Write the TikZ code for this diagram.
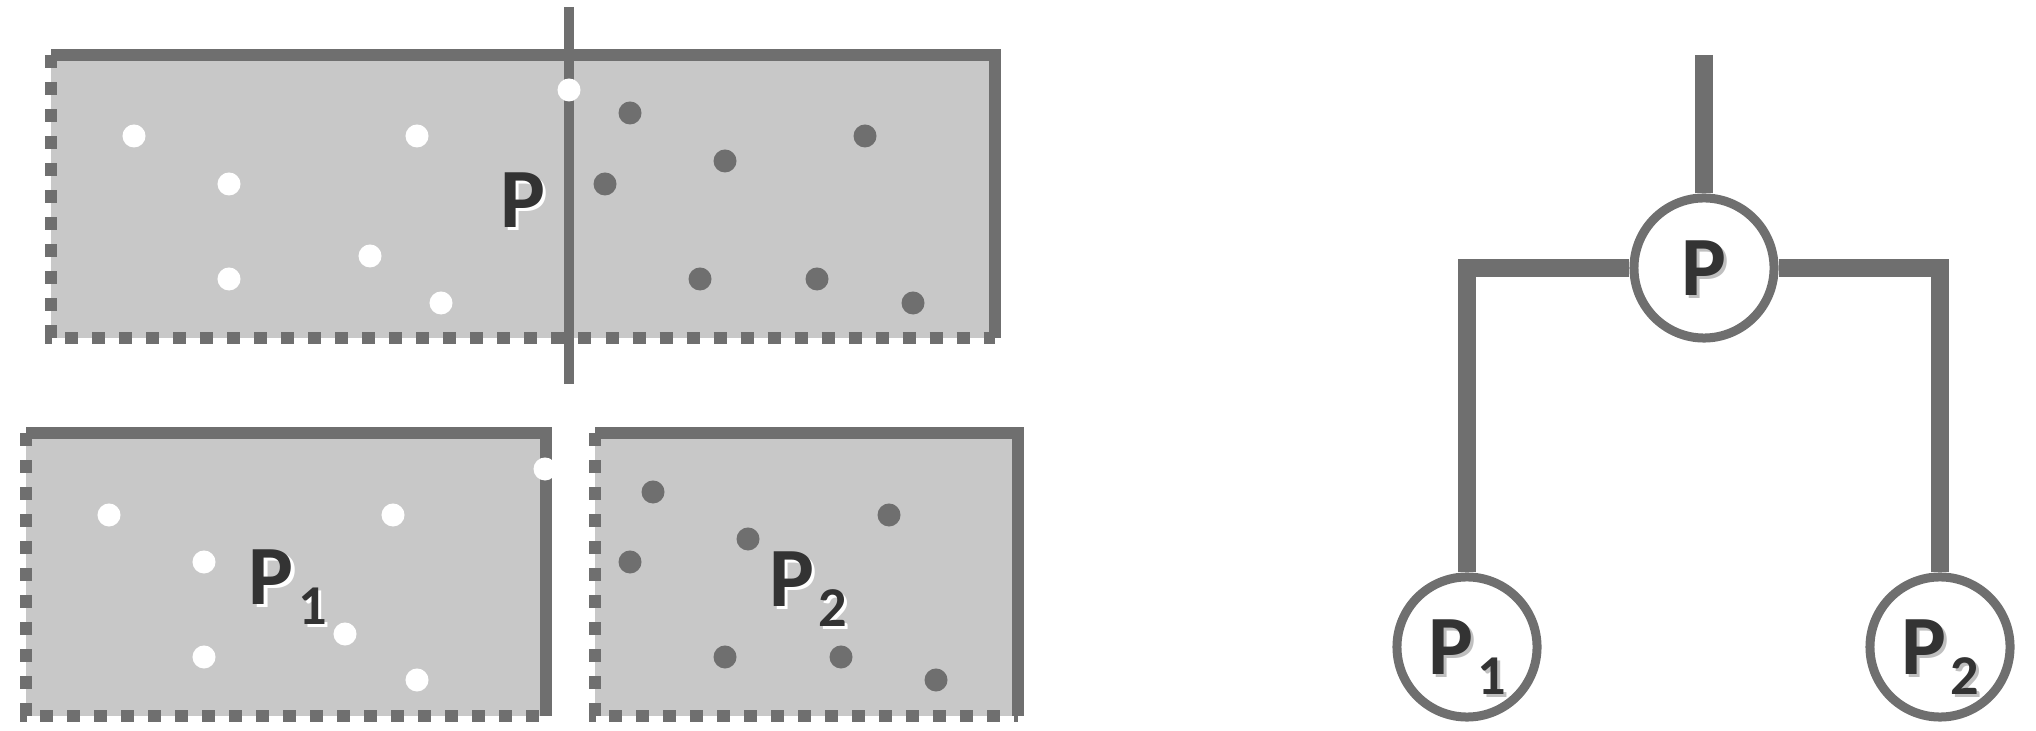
\documentclass[tikz,border=0pt]{standalone}
\usepackage{fontspec}
\setmainfont{Carlito}
\definecolor{ink}{HTML}{6F6F6F}
\definecolor{slab}{HTML}{C8C8C8}
\definecolor{lettr}{HTML}{333333}
\newcommand\shd[2]{\makebox[0pt][l]{\kern0.9pt\raisebox{-0.9pt}{\color{#1}#2}}#2}
\newcommand\psub[1]{\kern1.3pt\raisebox{-5.8pt}{\fontsize{16}{17}\selectfont #1}}
\tikzset{
  pane/.style={fill=slab},
  rim/.style={draw=ink,line width=0.12cm},
  rimdash/.style={draw=ink,line width=0.12cm,dash pattern=on 0.13cm off 0.14cm},
  wdot/.style={fill=white},
  gdot/.style={fill=ink},
  lbl/.style={text=lettr,font=\fontsize{24}{28}\selectfont\bfseries,inner sep=0pt,text depth=0pt},
  vtx/.style={lbl,circle,draw=ink,fill=white,line width=0.09cm,minimum size=1.4cm},
  branch/.style={draw=ink,line width=0.18cm}
}

\begin{document}
\begin{tikzpicture}[x=0.01cm,y=-0.01cm]
    \useasboundingbox (0,0) rectangle (2036,731);
    \fill[pane] (51,55) rectangle (995,338);
    \draw[rim] (51,55) -- (995,55) -- (995,338);
    \draw[rimdash] (51,55) -- (51,338) -- (995,338);
    \fill[pane] (26,433) rectangle (546,716);
    \draw[rim] (26,433) -- (546,433) -- (546,716);
    \draw[rimdash] (26,433) -- (26,716) -- (546,716);
    \fill[pane] (595,433) rectangle (1018,716);
    \draw[rim] (595,433) -- (1018,433) -- (1018,716);
    \draw[rimdash] (595,433) -- (595,716) -- (1018,716);
    \coordinate (cuttop) at (569,7);
    \coordinate (cutbot) at (569,384);
    \draw[ink,line width=0.1cm] (cuttop) -- (cutbot);
    \foreach \x/\y in {134/136,229/184,229/279,370/256,417/136,441/303,569/90,
        109/515,204/562,204/657,345/634,393/515,417/680,545/469}
        \fill[wdot] (\x,\y) circle[radius=0.115cm];
    \foreach \x/\y in {630/113,605/184,725/161,865/136,700/279,817/279,913/303,
        653/492,630/562,748/539,889/515,725/657,841/657,936/680}
        \fill[gdot] (\x,\y) circle[radius=0.115cm];
    \node[lbl] (lp) at (523,200) {\shd{white}{P}};
    \node[lbl] (lpa) at (288,577) {\shd{white}{P\psub{1}}};
    \node[lbl] (lpb) at (808,579) {\shd{white}{P\psub{2}}};
    \node[vtx] (p) at (1704,268) {\shd{lightgray}{P}};
    \node[vtx] (pa) at (1467,647) {\shd{lightgray}{P\psub{1}}};
    \node[vtx] (pb) at (1940,647) {\shd{lightgray}{P\psub{2}}};
    \coordinate (ptop) at (1704,55);
    \draw[branch] (ptop) -- (p);
    \draw[branch] (p) -| (pa);
    \draw[branch] (p) -| (pb);
\end{tikzpicture}
\end{document}
